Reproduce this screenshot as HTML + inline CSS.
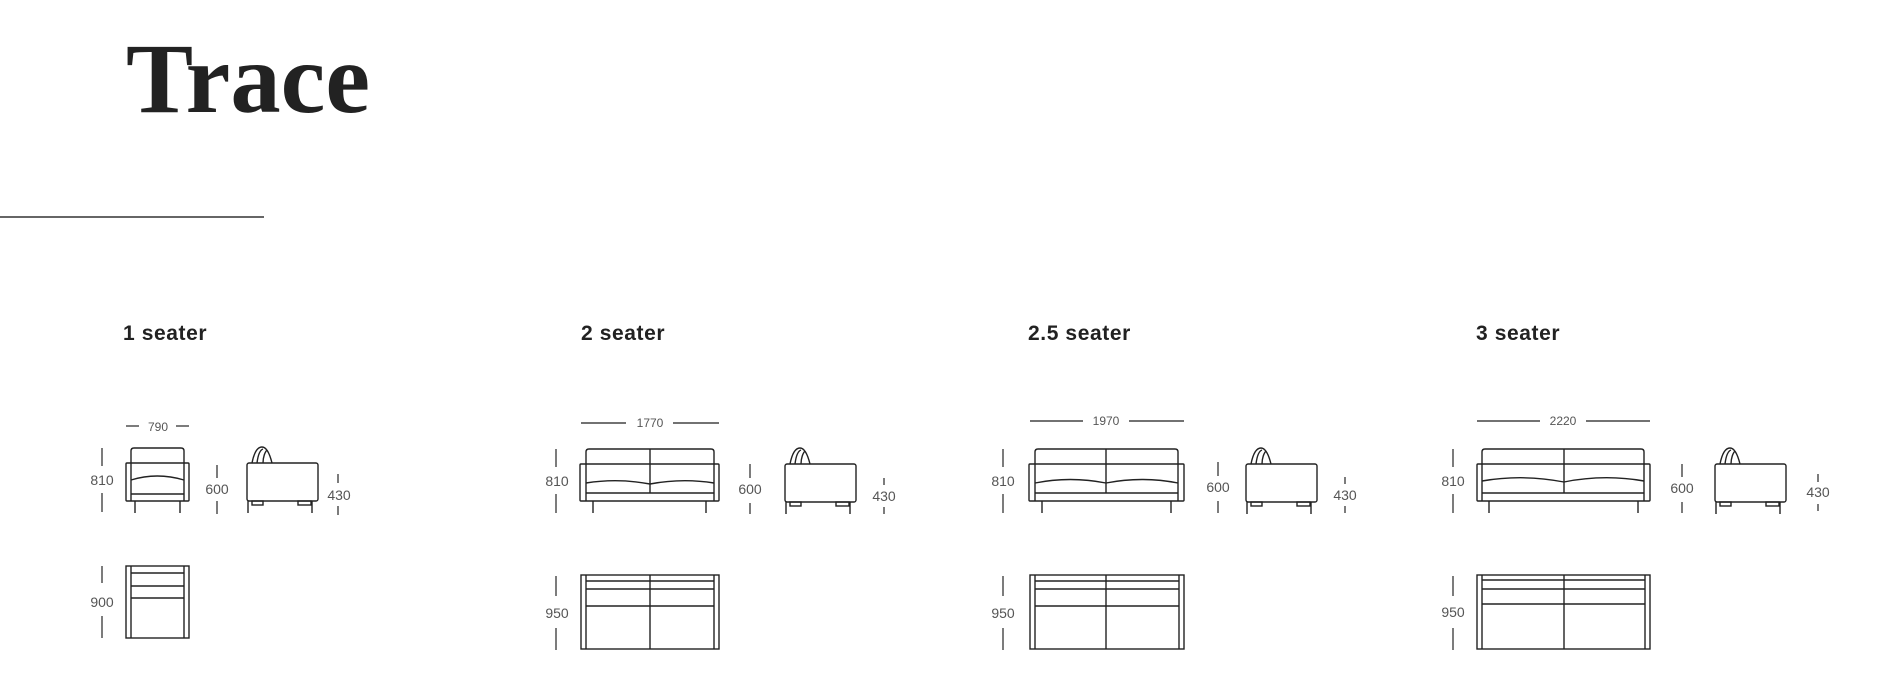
<!DOCTYPE html>
<html><head><meta charset="utf-8"><style>
html,body{margin:0;padding:0;background:#fff;}
body{width:1878px;height:698px;overflow:hidden;position:relative;}
svg{position:absolute;left:0;top:0;}
.d{font-family:"Liberation Sans",sans-serif;font-size:14px;fill:#555;text-anchor:middle;}
.s{font-family:"Liberation Sans",sans-serif;font-size:21px;font-weight:bold;fill:#222;letter-spacing:0.6px;}
</style></head><body>
<svg width="1878" height="698" viewBox="0 0 1878 698" xmlns="http://www.w3.org/2000/svg">
<text x="126" y="112" font-family="Liberation Serif, serif" font-size="100" font-weight="bold" fill="#222" textLength="244" lengthAdjust="spacingAndGlyphs">Trace</text>
<line x1="0" y1="217" x2="264" y2="217" stroke="#333" stroke-width="1.5"/>
<text class="s" x="123" y="340">1 seater</text>
<text class="s" x="581" y="340">2 seater</text>
<text class="s" x="1028" y="340">2.5 seater</text>
<text class="s" x="1476" y="340">3 seater</text>

<defs>
<g id="side" fill="none" stroke="#222" stroke-width="1.4">
<rect x="0" y="0" width="71" height="38" rx="2"/>
<path d="M5 0 C7 -10 10 -16 15 -16 C20 -16 23 -8 25 0"/>
<path d="M10 0 C11 -8 13 -13 16 -14 M16 0 C16 -6 18 -11 20 -13"/>
<rect x="5" y="38" width="11" height="4"/>
<rect x="51" y="38" width="13" height="4"/>
<line x1="1" y1="38" x2="1" y2="50"/>
<line x1="65" y1="38" x2="65" y2="50"/>
</g>
</defs>

<g fill="none" stroke="#222" stroke-width="1.4">
<!-- chair front -->
<rect x="126" y="463" width="63" height="38" rx="1"/>
<path d="M131 501 V451 Q131 448 134 448 H181 Q184 448 184 451 V501"/>
<path d="M131 480 Q157 472 184 480"/>
<line x1="131" y1="494" x2="184" y2="494"/>
<line x1="135" y1="501" x2="135" y2="513"/><line x1="180" y1="501" x2="180" y2="513"/>
<!-- chair top -->
<rect x="126" y="566" width="63" height="72"/>
<line x1="131" y1="566" x2="131" y2="638"/><line x1="184" y1="566" x2="184" y2="638"/>
<line x1="131" y1="573" x2="184" y2="573"/><line x1="131" y1="586" x2="184" y2="586"/><line x1="131" y1="598" x2="184" y2="598"/>

<!-- 2 seater front -->
<rect x="580" y="464" width="139" height="37" rx="1"/>
<path d="M586 501 V452 Q586 449 589 449 H711 Q714 449 714 452 V501"/>
<line x1="650" y1="449" x2="650" y2="493"/>
<path d="M586 483 Q618 478 650 484 Q682 478 714 483"/>
<line x1="586" y1="493" x2="714" y2="493"/>
<line x1="593" y1="501" x2="593" y2="513"/><line x1="706" y1="501" x2="706" y2="513"/>
<rect x="581" y="575" width="138" height="74"/>
<line x1="586" y1="575" x2="586" y2="649"/><line x1="714" y1="575" x2="714" y2="649"/>
<line x1="586" y1="581" x2="714" y2="581"/><line x1="586" y1="589" x2="714" y2="589"/><line x1="586" y1="606" x2="714" y2="606"/>
<line x1="650" y1="575" x2="650" y2="649"/>

<!-- 2.5 seater -->
<rect x="1029" y="464" width="155" height="37" rx="1"/>
<path d="M1035 501 V452 Q1035 449 1038 449 H1175 Q1178 449 1178 452 V501"/>
<line x1="1106" y1="449" x2="1106" y2="493"/>
<path d="M1035 483 Q1070 476 1106 483 Q1142 476 1178 483"/>
<line x1="1035" y1="493" x2="1178" y2="493"/>
<line x1="1042" y1="501" x2="1042" y2="513"/><line x1="1171" y1="501" x2="1171" y2="513"/>
<rect x="1030" y="575" width="154" height="74"/>
<line x1="1035" y1="575" x2="1035" y2="649"/><line x1="1179" y1="575" x2="1179" y2="649"/>
<line x1="1035" y1="581" x2="1179" y2="581"/><line x1="1035" y1="589" x2="1179" y2="589"/><line x1="1035" y1="606" x2="1179" y2="606"/>
<line x1="1106" y1="575" x2="1106" y2="649"/>

<!-- 3 seater -->
<rect x="1477" y="464" width="173" height="37" rx="1"/>
<path d="M1482 501 V452 Q1482 449 1485 449 H1641 Q1644 449 1644 452 V501"/>
<line x1="1564" y1="449" x2="1564" y2="493"/>
<path d="M1482 481 Q1523 474 1564 482 Q1604 474 1644 481"/>
<line x1="1482" y1="493" x2="1644" y2="493"/>
<line x1="1489" y1="501" x2="1489" y2="513"/><line x1="1638" y1="501" x2="1638" y2="513"/>
<rect x="1477" y="575" width="173" height="74"/>
<line x1="1482" y1="575" x2="1482" y2="649"/><line x1="1645" y1="575" x2="1645" y2="649"/>
<line x1="1482" y1="580" x2="1645" y2="580"/><line x1="1482" y1="589" x2="1645" y2="589"/><line x1="1482" y1="604" x2="1645" y2="604"/>
<line x1="1564" y1="575" x2="1564" y2="649"/>
</g>

<use href="#side" x="247" y="463"/>
<use href="#side" x="785" y="464"/>
<use href="#side" x="1246" y="464"/>
<use href="#side" x="1715" y="464"/>

<!-- dimension ticks -->
<g stroke="#444" stroke-width="1.4">
<line x1="126" y1="426" x2="139" y2="426"/><line x1="176" y1="426" x2="189" y2="426"/>
<line x1="102" y1="448" x2="102" y2="466"/><line x1="102" y1="493" x2="102" y2="512"/>
<line x1="217" y1="465" x2="217" y2="478"/><line x1="217" y1="501" x2="217" y2="514"/>
<line x1="338" y1="474" x2="338" y2="483"/><line x1="338" y1="506" x2="338" y2="515"/>
<line x1="102" y1="566" x2="102" y2="583"/><line x1="102" y1="616" x2="102" y2="638"/>

<line x1="581" y1="423" x2="626" y2="423"/><line x1="673" y1="423" x2="719" y2="423"/>
<line x1="556" y1="449" x2="556" y2="467"/><line x1="556" y1="494" x2="556" y2="513"/>
<line x1="750" y1="464" x2="750" y2="478"/><line x1="750" y1="503" x2="750" y2="514"/>
<line x1="884" y1="478" x2="884" y2="485"/><line x1="884" y1="507" x2="884" y2="514"/>
<line x1="556" y1="576" x2="556" y2="596"/><line x1="556" y1="628" x2="556" y2="650"/>

<line x1="1030" y1="421" x2="1083" y2="421"/><line x1="1129" y1="421" x2="1184" y2="421"/>
<line x1="1003" y1="449" x2="1003" y2="467"/><line x1="1003" y1="494" x2="1003" y2="513"/>
<line x1="1218" y1="462" x2="1218" y2="476"/><line x1="1218" y1="501" x2="1218" y2="513"/>
<line x1="1345" y1="477" x2="1345" y2="484"/><line x1="1345" y1="506" x2="1345" y2="513"/>
<line x1="1003" y1="576" x2="1003" y2="596"/><line x1="1003" y1="628" x2="1003" y2="650"/>

<line x1="1477" y1="421" x2="1540" y2="421"/><line x1="1586" y1="421" x2="1650" y2="421"/>
<line x1="1453" y1="449" x2="1453" y2="467"/><line x1="1453" y1="494" x2="1453" y2="513"/>
<line x1="1682" y1="464" x2="1682" y2="477"/><line x1="1682" y1="502" x2="1682" y2="513"/>
<line x1="1818" y1="474" x2="1818" y2="482"/><line x1="1818" y1="504" x2="1818" y2="511"/>
<line x1="1453" y1="576" x2="1453" y2="596"/><line x1="1453" y1="628" x2="1453" y2="650"/>
</g>

<g class="d">
<text x="158" y="431" font-size="12">790</text>
<text x="102" y="485">810</text>
<text x="217" y="494">600</text>
<text x="339" y="500">430</text>
<text x="102" y="607">900</text>

<text x="650" y="427" font-size="12">1770</text>
<text x="557" y="486">810</text>
<text x="750" y="494">600</text>
<text x="884" y="501">430</text>
<text x="557" y="618">950</text>

<text x="1106" y="425" font-size="12">1970</text>
<text x="1003" y="486">810</text>
<text x="1218" y="492">600</text>
<text x="1345" y="500">430</text>
<text x="1003" y="618">950</text>

<text x="1563" y="425" font-size="12">2220</text>
<text x="1453" y="486">810</text>
<text x="1682" y="493">600</text>
<text x="1818" y="497">430</text>
<text x="1453" y="617">950</text>
</g>
</svg>
</body></html>
